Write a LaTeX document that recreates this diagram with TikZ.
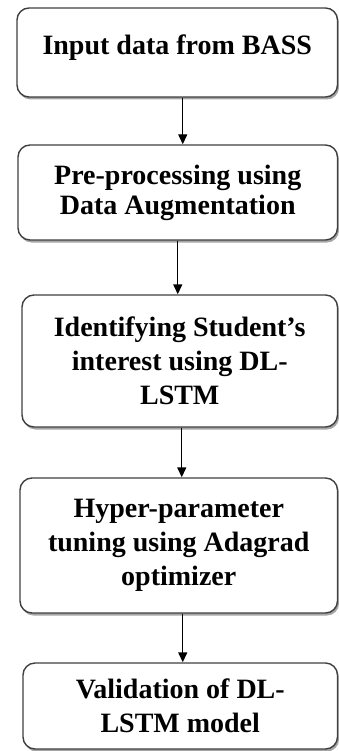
\documentclass[tikz,border=0pt]{standalone}
\usepackage{fontspec}
\setmainfont{Liberation Serif}
\usetikzlibrary{shadows,arrows.meta}
\tikzset{
    stage/.style={
        draw=black!75,
        line width=1.4pt,
        rounded corners=12pt,
        fill=white,
        align=center,
        inner sep=0pt,
        font=\bfseries\fontsize{28}{34}\selectfont,
        drop shadow={shadow xshift=1.5pt,shadow yshift=-2.5pt,fill=black!50,opacity=0.7}
    },
    flow/.style={-{Triangle[length=10pt,width=9pt]},line width=1.4pt}
}
\newcommand{\stage}[6] {
    \node[stage,minimum width={#4},minimum height={#5}] (#1) at ({#2}, {#3}) {#6};
}

\begin{document}
\begin{tikzpicture}[x=1pt,y=-1pt]
        \useasboundingbox (0,0) rectangle (339,751);
        \stage{input}{177.25}{52.5}{320.5}{89}{\rule[-16pt]{0pt}{35pt}Input data from BASS}
        \stage{prep}{177.75}{192.5}{319.5}{95}{Pre-processing using\\[-4pt]Data Augmentation}
        \stage{ident}{179.75}{361}{315.5}{132}{Identifying Student’s\\interest using DL-\\LSTM}
        \stage{tune}{178.75}{545.5}{317.5}{135}{Hyper-parameter\\tuning using Adagrad\\optimizer}
        \stage{valid}{180.25}{706}{314.5}{86}{Validation of DL-\\LSTM model}
        \draw[flow] ([xshift=5.5pt]input.south) -- ([xshift=5.5pt]input.south |- prep.north);
        \draw[flow] (prep.south) -- (prep.south |- ident.north);
        \draw[flow] ([xshift=2pt]ident.south) -- ([xshift=2pt]ident.south |- tune.north);
        \draw[flow] ([xshift=4pt]tune.south) -- ([xshift=4pt]tune.south |- valid.north);
\end{tikzpicture}
\end{document}
